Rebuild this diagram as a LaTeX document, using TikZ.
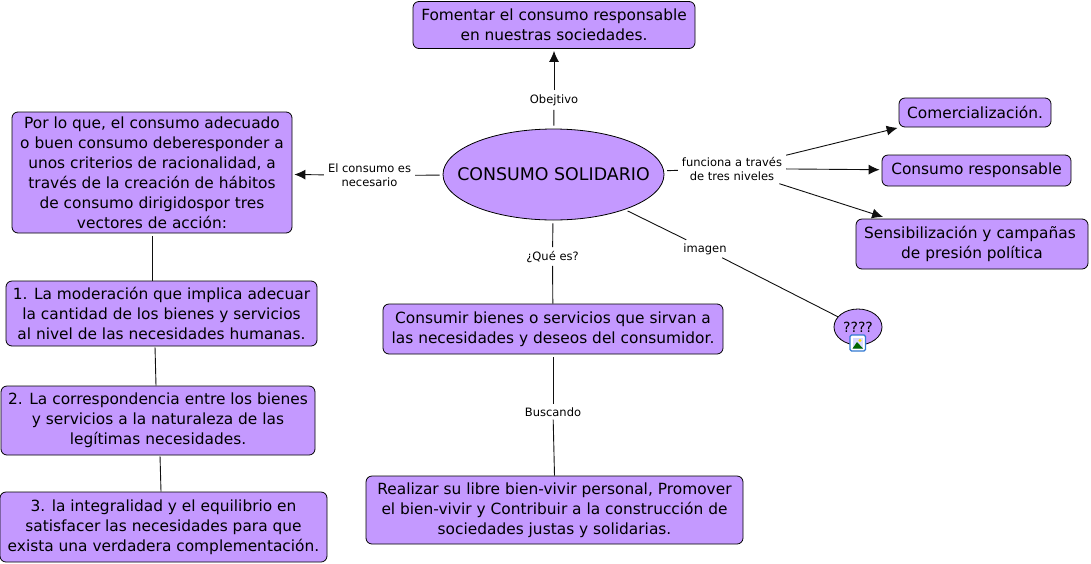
\documentclass[tikz,border=0pt]{standalone}
\usepackage{fontspec}
\setmainfont{DejaVu Sans}
\usetikzlibrary{shapes.geometric,arrows.meta}
\definecolor{concept}{RGB}{196,153,255}
\definecolor{linkc}{RGB}{15,15,15}
\tikzset{
  box/.style={draw=black,fill=concept,line width=0.8pt,rounded corners=6pt,inner sep=0pt,align=center,font=\fontsize{15.4}{20}\selectfont},
  oval/.style={draw=black,fill=concept,line width=0.8pt,ellipse,inner sep=0pt,align=center},
  lbl/.style={inner xsep=3pt,inner ysep=3pt,align=center,font=\fontsize{11.5}{14}\selectfont},
  link/.style={draw=linkc,line width=0.9pt,shorten >=1pt,shorten <=3pt},
  arrowlink/.style={draw=linkc,line width=0.9pt,shorten >=2pt,shorten <=1pt,-{Latex[length=11pt,width=10pt]}},
  plain/.style={draw=linkc,line width=0.9pt}
}
\begin{document}
\begin{tikzpicture}[x=1pt,y=-1pt]
\useasboundingbox (0,0) rectangle (1091,563);
% concepts
\node[oval,minimum width=221pt,minimum height=91pt,font=\fontsize{17.4}{20}\selectfont] (csm) at (553.5,174.5) {\makebox[0pt]{CONSUMO SOLIDARIO}};
\node[box,minimum width=282pt,minimum height=47pt] (top) at (554,25) {Fomentar el consumo responsable\\en nuestras sociedades.};
\node[box,minimum width=152pt,minimum height=29pt] (com) at (975,112.5) {Comercialización.};
\node[box,minimum width=189pt,minimum height=31pt] (res) at (976.5,170.5) {Consumo responsable};
\node[box,minimum width=232pt,minimum height=50pt] (sen) at (972,244) {\hspace*{-4pt}Sensibilización y campañas\\de presión política};
\node[box,minimum width=280pt,minimum height=121pt] (b0) at (152,172.5) {Por lo que, el consumo adecuado\\o buen consumo deberesponder a\\unos criterios de racionalidad, a\\través de la creación de hábitos\\de consumo dirigidospor tres\\vectores de acción:};
\node[box,minimum width=311pt,minimum height=65pt] (b1) at (161.5,313.5) {1. La moderación que implica adecuar\\la cantidad de los bienes y servicios\\al nivel de las necesidades humanas.};
\node[box,minimum width=314pt,minimum height=69pt] (b2) at (158,420.5) {2. La correspondencia entre los bienes\\y servicios a la naturaleza de las\\legítimas necesidades.};
\node[box,minimum width=327pt,minimum height=70pt] (b3) at (163.5,527) {3. la integralidad y el equilibrio en\\satisfacer las necesidades para que\\exista una verdadera complementación.};
\node[box,minimum width=340pt,minimum height=50pt] (cons) at (553,329) {Consumir bienes o servicios que sirvan a\\las necesidades y deseos del consumidor.};
\node[box,minimum width=377pt,minimum height=68pt] (real) at (554.5,510) {Realizar su libre bien-vivir personal, Promover\\el bien-vivir y Contribuir a la construcción de\\sociedades justas y solidarias.};
\node[oval,minimum width=48pt,minimum height=36pt,font=\fontsize{14}{18}\selectfont] (img) at (858,327) {\makebox[0pt]{????}};
% link labels
\node[lbl] (lobj) at (554,100) {Obejtivo};
\node[lbl] (lnec) at (369.5,175.5) {El consumo es\\necesario};
\node[lbl] (lfun) at (732,168.5) {funciona a través\\de tres niveles};
\node[lbl] (lque) at (552.5,257) {¿Qué es?};
\node[lbl] (lima) at (705,249) {imagen};
\node[lbl] (lbus) at (553,412) {Buscando};
% connectors
\draw[link] (csm) -- (lobj);
\draw[arrowlink] (lobj) -- (top);
\draw[link] (csm) -- (lnec);
\draw[arrowlink] (lnec) -- (b0);
\draw[link] (csm) -- (lfun);
\draw[arrowlink] (lfun) -- ([xshift=1pt]com.south west);
\draw[arrowlink] (lfun) -- (res);
\draw[arrowlink] (lfun) -- ([xshift=-87pt,yshift=1pt]sen.north);
\draw[link] (csm) -- (lque);
\draw[plain] (lque) -- (cons);
\draw[link] (csm) -- (lima);
\draw[plain] (lima) -- (img);
\draw[link,shorten >=0pt] (cons) -- (lbus);
\draw[plain,shorten <=0pt] (lbus) -- (real.north);
\draw[plain,shorten <=3pt] (b0.south) -- ([xshift=-9.5pt]b1.north);
\draw[plain,shorten <=1pt] ([xshift=-6.5pt]b1.south) -- ([xshift=-2pt]b2.north);
\draw[plain,shorten <=1pt] ([xshift=2pt]b2.south) -- ([xshift=-2.5pt]b3.north);
% image icon
\draw[draw={rgb,255:red,50;green,120;blue,210},fill=white,line width=1.2pt,rounded corners=1.5pt] (850,335) rectangle (865.5,351);
\fill[blue!15] (852.5,337.5) rectangle (863,348.5);
\fill[yellow!85!orange] (860,340.5) circle (1.6pt);
\fill[green!40!black] (852.5,348.5) -- (857,342) -- (863,348.5) -- cycle;
\end{tikzpicture}
\end{document}
